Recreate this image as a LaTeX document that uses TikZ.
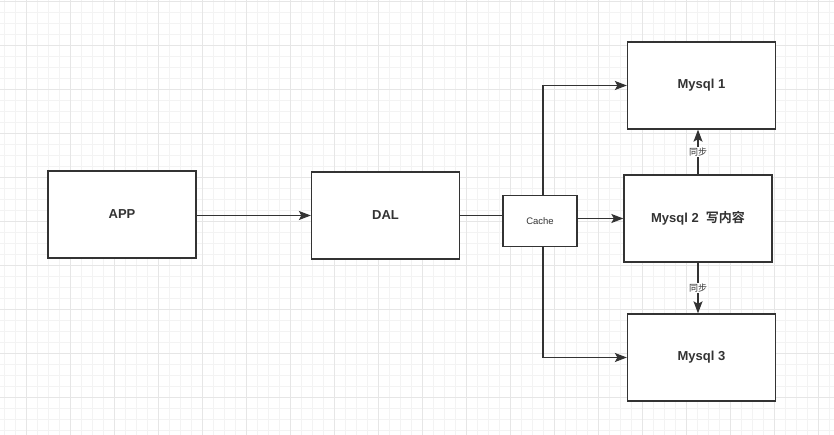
\documentclass[tikz,border=0pt]{standalone}
\usepackage{fontspec}
\setmainfont{Liberation Sans}
\newfontfamily\cjk{Noto Sans CJK SC}[BoldFont={Noto Sans CJK SC Bold}]
\usetikzlibrary{arrows.meta}
\definecolor{linegray}{HTML}{333333}
\definecolor{minorgrid}{HTML}{F3F3F3}
\definecolor{majorgrid}{HTML}{E6E6E6}
\tikzset{
  dbbox/.style={draw=linegray, line width=1.3pt, fill=white, text=linegray,
    minimum width=148pt, minimum height=87pt, font=\bfseries\fontsize{13}{15}\selectfont},
  cachebox/.style={draw=linegray, line width=1.3pt, fill=white, text=linegray,
    minimum width=74pt, minimum height=51pt, font=\fontsize{9.5}{11}\selectfont},
  link/.style={draw=linegray, line width=1.3pt, -{Stealth[length=12pt,width=9pt,inset=2.5pt]}},
  synclabel/.style={fill=white, text=linegray, inner sep=1pt, font=\cjk\fontsize{9}{10}\selectfont}
}
\begin{document}
\begin{tikzpicture}[x=1pt,y=-1pt]
    \useasboundingbox (0,0) rectangle (834,435);
    \fill[white] (0,0) rectangle (834,435);
    % grid
    \foreach \i in {0,...,75} {
        \draw[minorgrid, line width=0.8pt] (4.5+11*\i,0) -- (4.5+11*\i,435);
    }
    \foreach \i in {0,...,39} {
        \draw[minorgrid, line width=0.8pt] (0,1+11*\i) -- (834,1+11*\i);
    }
    \foreach \i in {0,...,18} {
        \draw[majorgrid, line width=0.8pt] (26.5+44*\i,0) -- (26.5+44*\i,435);
    }
    \foreach \i in {0,...,9} {
        \draw[majorgrid, line width=0.8pt] (0,1+44*\i) -- (834,1+44*\i);
    }
    % boxes
    \node[dbbox] (app) at (122,214.5) {APP};
    \node[dbbox] (dal) at (385.5,215.5) {DAL};
    \node[cachebox] (cache) at (540,221) {Cache};
    \node[dbbox] (mysqlA) at (701.5,85.5) {Mysql 1};
    \node[dbbox] (mysqlB) at (698,218.5) {Mysql 2\ \ {\cjk\bfseries 写内容}};
    \node[dbbox] (mysqlC) at (701.5,357.5) {Mysql 3};
    % links
    \draw[link] (app.east |- dal.west) -- (dal.west);
    \draw[draw=linegray, line width=1.3pt] (dal.east) -- (dal.east -| cache.west);
    \draw[link] (mysqlB.west -| cache.east) -- (mysqlB.west);
    \draw[link] ([xshift=3pt]cache.north) |- (mysqlA.west);
    \draw[link] ([xshift=3pt]cache.south) |- (mysqlC.west);
    \draw[link] (mysqlB.north) -- (mysqlB.north |- mysqlA.south)
        node[synclabel, midway] (syncA) {同步};
    \draw[link] (mysqlB.south) -- (mysqlB.south |- mysqlC.north)
        node[synclabel, midway] (syncC) {同步};
\end{tikzpicture}
\end{document}
